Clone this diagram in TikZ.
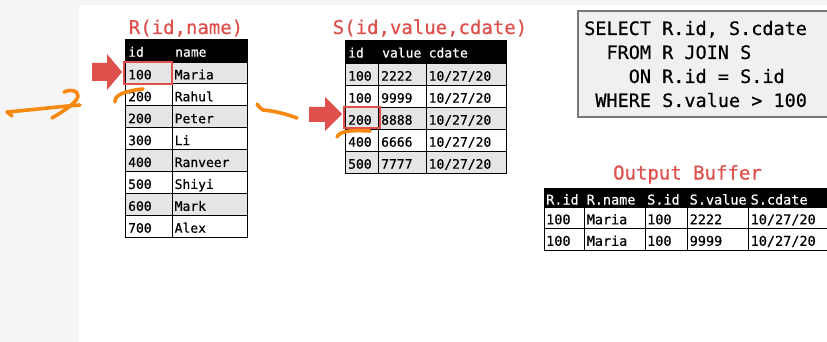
\documentclass[tikz,border=0pt]{standalone}
\usepackage{fontspec}
\setmonofont{DejaVu Sans Mono}
\newfontfamily\slidemono{DejaVu Sans Mono}[FakeBold=0.5]

\definecolor{hlred}{RGB}{222,80,76}
\definecolor{ink}{RGB}{247,136,16}
\definecolor{rowgray}{RGB}{229,229,229}
\definecolor{pagegray}{RGB}{245,245,245}
\definecolor{sqlfill}{RGB}{240,240,240}
\definecolor{sqlline}{RGB}{120,120,120}

\tikzset{
  tabtitle/.style={font=\slidemono\fontsize{19}{19}\selectfont, text=hlred, inner sep=0pt, anchor=base},
  cell/.style={font=\slidemono\fontsize{13}{13}\selectfont, inner sep=0pt, anchor=base west},
  ocell/.style={font=\slidemono\fontsize{13.5}{13.5}\selectfont, inner sep=0pt, anchor=base west},
  hcell/.style={cell, text=white},
  ohcell/.style={ocell, text=white},
  sqltext/.style={font=\slidemono\fontsize{18.5}{18.5}\selectfont, inner sep=0pt, anchor=base west},
  grid/.style={draw=black, line width=0.9pt},
  pointer/.style={fill=hlred},
  hilite/.style={draw=hlred, line width=2pt},
  scribble/.style={draw=ink, line width=3.6pt, line cap=round, line join=round},
}

\begin{document}
\begin{tikzpicture}[x=1pt, y=-1pt]
  \useasboundingbox (0,0) rectangle (827,342);
  \clip (0,0) rectangle (827,342);

  % page background and white slide area
  \fill[pagegray] (0,0) rectangle (827,342);
  \fill[white] (79,5) rectangle (827,342);

  % ---------- table R ----------
  \node[tabtitle] (rtitle) at (186,34) {R(id,name)};
  \fill[black] (125,39) rectangle (247,62);
  \node[hcell] (rh1) at (128,56.7) {id};
  \node[hcell] (rh2) at (175,56.7) {name};
  \foreach \id/\nm [count=\i from 0] in
      {100/Maria,200/Rahul,200/Peter,300/Li,400/Ranveer,500/Shiyi,600/Mark,700/Alex} {
    \pgfmathsetmacro\yt{62+21.9*\i}
    \ifodd\i \def\rf{white}\else \def\rf{rowgray}\fi
    \draw[grid, fill=\rf] (125,\yt) rectangle (172,\yt+21.9);
    \draw[grid, fill=\rf] (172,\yt) rectangle (247,\yt+21.9);
    \node[cell] (r-id-\i) at (128,\yt+17.4) {\id};
    \node[cell] (r-nm-\i) at (174.5,\yt+17.4) {\nm};
  }
  \draw[grid] (125,39) rectangle (247,237.1);

  % ---------- table S ----------
  \node[tabtitle] (stitle) at (430,34) {S(id,value,cdate)};
  \fill[black] (345,40) rectangle (506,63);
  \node[hcell] (sh1) at (348,57.5) {id};
  \node[hcell] (sh2) at (382,57.5) {value};
  \node[hcell] (sh3) at (428.5,57.5) {cdate};
  \foreach \id/\val [count=\i from 0] in
      {100/2222,100/9999,200/8888,400/6666,500/7777} {
    \pgfmathsetmacro\yt{63+22*\i}
    \ifodd\i \def\rf{white}\else \def\rf{rowgray}\fi
    \draw[grid, fill=\rf] (345,\yt) rectangle (378,\yt+22);
    \draw[grid, fill=\rf] (378,\yt) rectangle (426,\yt+22);
    \draw[grid, fill=\rf] (426,\yt) rectangle (506,\yt+22);
    \node[cell] (s-id-\i) at (348,\yt+17.7) {\id};
    \node[cell] (s-val-\i) at (381,\yt+17.7) {\val};
    \node[cell] (s-dt-\i) at (428.5,\yt+17.7) {10/27/20};
  }
  \draw[grid] (345,40) rectangle (506,173);

  % ---------- cursors ----------
  \draw[hilite] (124,62) rectangle (172,84);
  \fill[pointer] (92,63) -- (107,63) -- (107,54) -- (122,72) -- (107,90)
                 -- (107,81) -- (92,81) -- cycle;
  \draw[hilite] (344,107) rectangle (380,128.5);
  \fill[pointer] (309,107) -- (325,107) -- (325,97) -- (342,114) -- (325,131)
                 -- (325,122) -- (309,122) -- cycle;

  % ---------- query ----------
  \draw[draw=sqlline, fill=sqlfill, line width=1.6pt] (578,11) rectangle (845,117);
  \node[sqltext] (q1) at (584,35) {SELECT R.id, S.cdate};
  \node[sqltext] (q2) at (584,59) {\hphantom{SE}FROM R JOIN S};
  \node[sqltext] (q3) at (584,83) {\hphantom{SELE}ON R.id = S.id};
  \node[sqltext] (q4) at (584,107) {\hphantom{S}WHERE S.value > 100};

  % ---------- output buffer ----------
  \node[tabtitle] (otitle) at (687.5,179.5) {Output Buffer};
  \fill[black] (544,188) rectangle (830,207);
  \node[ohcell] (oh1) at (546,204.5) {R.id};
  \node[ohcell] (oh2) at (586.5,204.5) {R.name};
  \node[ohcell] (oh3) at (647,204.5) {S.id};
  \node[ohcell] (oh4) at (689.5,204.5) {S.value};
  \node[ohcell] (oh5) at (750.5,204.5) {S.cdate};
  \foreach \val [count=\i from 0] in {2222,9999} {
    \pgfmathsetmacro\yt{207+21.5*\i}
    \draw[grid, fill=white] (544,\yt) rectangle (584,\yt+21.5);
    \draw[grid, fill=white] (584,\yt) rectangle (645,\yt+21.5);
    \draw[grid, fill=white] (645,\yt) rectangle (687,\yt+21.5);
    \draw[grid, fill=white] (687,\yt) rectangle (748,\yt+21.5);
    \draw[grid, fill=white] (748,\yt) rectangle (830,\yt+21.5);
    \node[ocell] (o-a-\i) at (546,\yt+17.3) {100};
    \node[ocell] (o-b-\i) at (586.5,\yt+17.3) {Maria};
    \node[ocell] (o-c-\i) at (647,\yt+17.3) {100};
    \node[ocell] (o-d-\i) at (689.5,\yt+17.3) {\val};
    \node[ocell] (o-e-\i) at (750.5,\yt+17.3) {10/27/20};
  }

  % ---------- hand-drawn marks ----------
  \draw[scribble] (12,116) -- (7,112) .. controls (30,110) and (55,107) .. (80,105);
  \draw[scribble] (64,92) .. controls (70,89) and (78,90) .. (78,96)
                  .. controls (77,103) and (62,112) .. (52,118);
  \draw[scribble] (115,102) .. controls (114,95) and (125,91) .. (143,89);
  \draw[scribble] (257,104) .. controls (259,107) .. (263,110)
                  .. controls (275,111) and (286,114) .. (297,118);
  \draw[scribble] (337,137) .. controls (340,131) and (350,130) .. (370,131);
\end{tikzpicture}
\end{document}
